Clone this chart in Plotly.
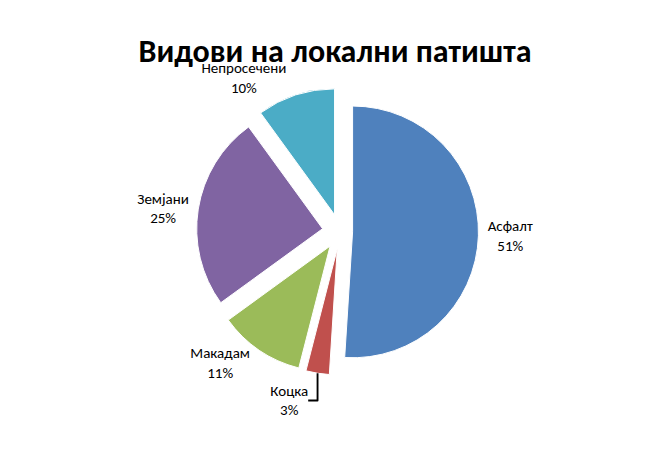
import plotly.graph_objects as go

labels = ["Асфалт", "Коцка", "Макадам", "Земјани", "Непросечени"]
values = [51, 3, 11, 25, 10]
colors = ["#4F81BD", "#C0504D", "#9BBB59", "#8064A2", "#4BACC6"]

fig = go.Figure(go.Pie(
    labels=labels,
    values=values,
    sort=False,
    direction="clockwise",
    rotation=0,
    pull=[0.1, 0.14, 0.14, 0.14, 0.14],
    marker=dict(colors=colors, line=dict(color="white", width=1)),
    texttemplate="%{label}<br>%{percent:.0%}",
    textposition="outside",
    textfont=dict(family="Calibri, Carlito, Liberation Sans", size=15, color="black"),
    showlegend=False,
))

fig.update_layout(
    width=654, height=451,
    title=dict(text="<b>Видови на локални патишта</b>", x=0.5, y=0.93,
               font=dict(family="Calibri, Carlito, Liberation Sans", size=32, color="black")),
    margin=dict(l=60, r=60, t=80, b=15),
    paper_bgcolor="white",
)

fig.write_html("out.html")
